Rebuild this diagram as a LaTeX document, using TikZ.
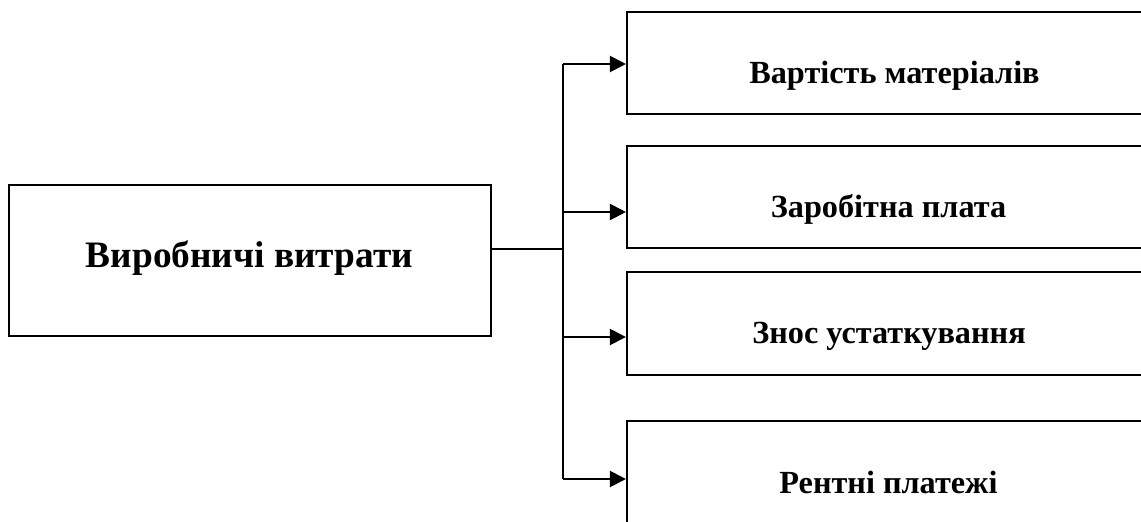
\documentclass[tikz,border=0pt]{standalone}
\usepackage{fontspec}
\setmainfont{Liberation Serif}
\usetikzlibrary{arrows.meta}
\tikzset{
  boxshape/.style={draw, line width=1.6pt, inner sep=0pt, fill=white},
  lbl/.style={anchor=base, inner sep=0pt, font=\fontsize{24.2}{29}\selectfont\bfseries},
  mainlbl/.style={anchor=base, inner sep=0pt, font=\fontsize{28}{34}\selectfont\bfseries},
  link/.style={line width=1.6pt},
  arr/.style={line width=1.6pt, -{Triangle[length=12pt,width=12pt]}}
}
\begin{document}
\begin{tikzpicture}[x=0.75pt,y=-0.75pt]
\clip (0,0) rectangle (1141,521);
\fill[white] (0,0) rectangle (1141,521);
% boxes
\node[boxshape, minimum width={482*0.75pt}, minimum height={151*0.75pt}] (main) at (250,260.5) {};
\node[boxshape, minimum width={533*0.75pt}, minimum height={102*0.75pt}] (b1) at (893.5,63) {};
\node[boxshape, minimum width={533*0.75pt}, minimum height={102*0.75pt}] (b2) at (893.5,197) {};
\node[boxshape, minimum width={533*0.75pt}, minimum height={103*0.75pt}] (b3) at (893.5,323.5) {};
\node[boxshape, minimum width={533*0.75pt}, minimum height={119*0.75pt}] (b4) at (893.5,480.5) {};
% labels
\node[mainlbl] (tmain) at (249.5,267) {Виробничі витрати};
\node[lbl] (t1) at (894.5,83) {Вартість матеріалів};
\node[lbl] (t2) at (888.5,217) {Заробітна плата};
\node[lbl] (t3) at (889,343) {Знос устаткування};
\node[lbl] (t4) at (888.5,493) {Рентні платежі};
% connectors
\coordinate (j) at (563,249);
\coordinate (k1) at (563,64);
\coordinate (k2) at (563,212);
\coordinate (k3) at (563,337);
\coordinate (k4) at (563,479);
\draw[link] (j -| main.east) -- (j);
\draw[link] (k1) -- (k4);
\draw[arr] (k1) -- (k1 -| b1.west);
\draw[arr] (k2) -- (k2 -| b2.west);
\draw[arr] (k3) -- (k3 -| b3.west);
\draw[arr] (k4) -- (k4 -| b4.west);
\end{tikzpicture}
\end{document}
